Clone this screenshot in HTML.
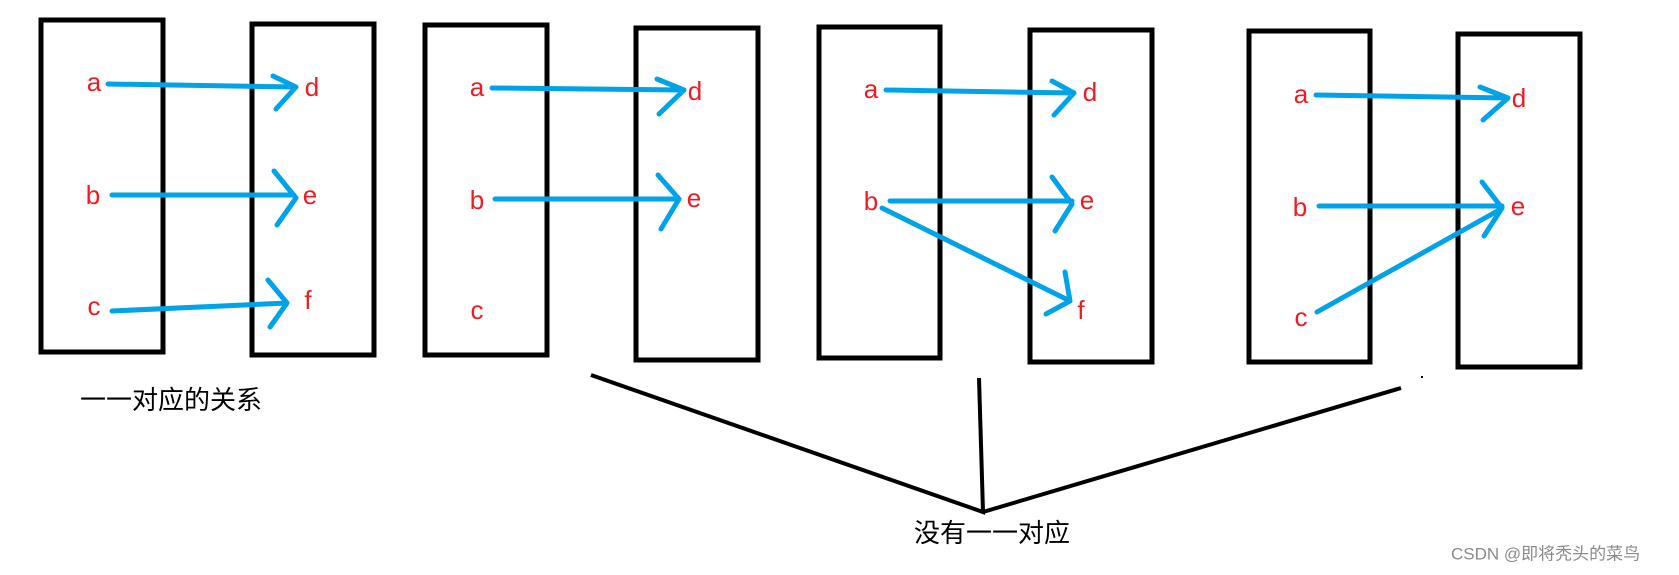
<!DOCTYPE html>
<html><head><meta charset="utf-8"><style>
html,body{margin:0;padding:0;background:#fff;}
svg{display:block;}
.l{font-family:"Liberation Sans",sans-serif;font-size:26px;fill:#ed1c24;text-anchor:middle;dominant-baseline:central;}
.c{font-family:"Liberation Sans","Noto Sans CJK SC",sans-serif;font-size:26px;fill:#000;dominant-baseline:central;}
</style></head><body>
<svg width="1679" height="575" viewBox="0 0 1679 575" xmlns="http://www.w3.org/2000/svg">
<g fill="none" stroke="#000" stroke-width="5">
<rect x="41" y="20" width="122" height="332"/>
<rect x="252" y="24" width="122" height="331"/>
<rect x="425" y="25" width="122" height="330"/>
<rect x="636" y="28" width="122" height="332"/>
<rect x="819" y="27" width="121" height="331"/>
<rect x="1030" y="30" width="122" height="332"/>
<rect x="1249" y="31" width="121" height="331"/>
<rect x="1458" y="34" width="122" height="333"/>
<path d="M591 375 L983 512 L979 378 M983 512 L1401 388" stroke-width="4"/>
</g>
<rect x="1421" y="376" width="2" height="2" fill="#000"/>
<g fill="none" stroke="#00a2e8" stroke-width="5" stroke-linecap="round" stroke-linejoin="round">
<path d="M108 84 L296 87 M273 76 L296 87 L276 109"/>
<path d="M112 195 L294 195 M274 171 L296 198 L277 225"/>
<path d="M112 311 L287 303 M268 280 L287 303 L270 327"/>
<path d="M492 88 L684 90 M657 79 L684 90 L659 114"/>
<path d="M495 199 L679 199 M658 175 L679 199 L661 229"/>
<path d="M886 90 L1074 93 M1052 81 L1074 93 L1054 115"/>
<path d="M890 201 L1072 201 M1052 177 L1072 204 L1055 231"/>
<path d="M882 208 L1070 301 M1065 272 L1070 301 L1046 314"/>
<path d="M1316 95 L1508 98 M1480 87 L1508 98 L1483 120"/>
<path d="M1319 206 L1502 206 M1482 182 L1502 208 L1484 236"/>
<path d="M1317 312 L1501 209"/>
</g>
<g class="l">
<text x="94" y="82">a</text><text x="93" y="195">b</text><text x="94" y="306">c</text>
<text x="312" y="87">d</text><text x="310" y="195">e</text><text x="308" y="300">f</text>
<text x="477" y="87">a</text><text x="477" y="200">b</text><text x="477" y="310">c</text>
<text x="695" y="91">d</text><text x="694" y="198">e</text>
<text x="871" y="89">a</text><text x="871" y="201">b</text>
<text x="1090" y="92">d</text><text x="1087" y="200">e</text><text x="1081" y="310">f</text>
<text x="1301" y="94">a</text><text x="1300" y="207">b</text><text x="1301" y="317">c</text>
<text x="1519" y="98">d</text><text x="1518" y="206">e</text>
</g>
<text class="c" x="80" y="400">一一对应的关系</text>
<text class="c" x="914" y="533">没有一一对应</text>
<text x="1451" y="554" style="font-family:'Liberation Sans','Noto Sans CJK SC',sans-serif;font-size:17px;fill:#8a8a8a;dominant-baseline:central;">CSDN @即将秃头的菜鸟</text>
</svg>
</body></html>
